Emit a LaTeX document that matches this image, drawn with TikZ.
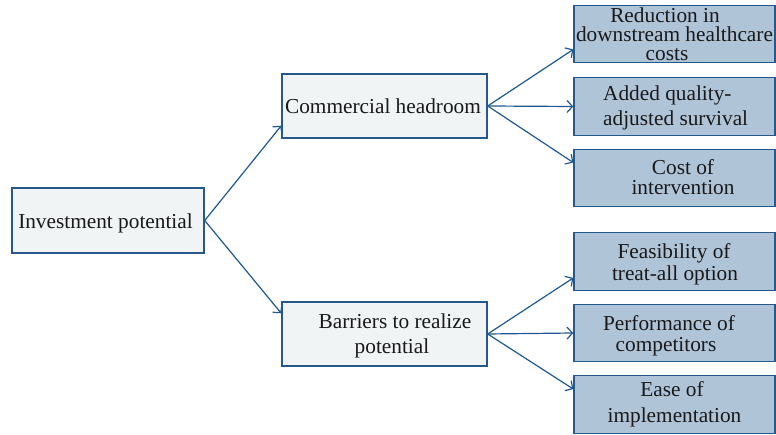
\documentclass[tikz,border=0pt]{standalone}
\usepackage{fontspec}
\setmainfont{Liberation Serif}
\usetikzlibrary{arrows.meta}
\definecolor{boxline}{RGB}{38,88,140}
\definecolor{lightfill}{RGB}{240,244,244}
\definecolor{darkfill}{RGB}{176,196,216}
\definecolor{arrowcol}{RGB}{30,88,146}
\tikzset{
  box/.style={draw=boxline, line width=1.4pt, inner sep=0pt, minimum height=64pt},
  lbox/.style={box, fill=lightfill, minimum width=205pt},
  rbox/.style={box, fill=darkfill, minimum width=201pt, minimum height=57.5pt},
  txt/.style={anchor=base, inner sep=0pt, text height=14pt, text depth=4.5pt, font=\fontsize{21.3pt}{24pt}\selectfont, text=black!90},
  conn/.style={draw=arrowcol, line width=1.2pt, -{Straight Barb[length=5.5pt,width=12pt,line width=1.2pt]}}
}
\begin{document}
\begin{tikzpicture}[x=1pt,y=-1pt]
\useasboundingbox (0,0) rectangle (776,435);
% boxes
\node[lbox, minimum width=192pt, minimum height=65pt] (inv) at (108,220.5) {};
\node[lbox] (hr) at (384.5,106) {};
\node[lbox] (bar) at (384.5,334) {};
\node[rbox] (r1) at (674.5,34) {};
\node[rbox] (r2) at (674.5,106.5) {};
\node[rbox] (r3) at (674.5,178) {};
\node[rbox] (r4) at (674.5,261.5) {};
\node[rbox] (r5) at (674.5,333) {};
\node[rbox] (r6) at (674.5,404.5) {};
% texts
\node[txt] (tinv) at (105.5,229) {Investment potential};
\node[txt] (thr) at (383,114) {Commercial headroom};
\node[txt] (tbar1) at (395,329) {Barriers to realize};
\node[txt] (tbar2) at (392,354) {potential};
\node[txt] (t1a) at (665,22.5) {Reduction in};
\node[txt] (t1b) at (674.5,41.5) {downstream healthcare};
\node[txt] (t1c) at (667,60.5) {costs};
\node[txt, anchor=base west] (t2a) at (603,101) {Added quality-};
\node[txt, anchor=base west] (t2b) at (603,126) {adjusted survival};
\node[txt] (t3a) at (683,175) {Cost of};
\node[txt] (t3b) at (683,195) {intervention};
\node[txt] (t4a) at (674,259) {Feasibility of};
\node[txt] (t4b) at (675,281) {treat-all option};
\node[txt] (t5a) at (669,331) {Performance of};
\node[txt] (t5b) at (666,352) {competitors};
\node[txt] (t6a) at (672,396) {Ease of};
\node[txt] (t6b) at (674.5,422) {implementation};
% connectors
\draw[conn] (inv.east) -- ([yshift=13pt]hr.south west);
\draw[conn] (inv.east) -- ([yshift=-12pt]bar.north west);
\draw[conn] (hr.east) -- ([yshift=14pt]r1.south west);
\draw[conn] (hr.east) -- (r2.west);
\draw[conn] (hr.east) -- ([yshift=-14pt]r3.north west);
\draw[conn] (bar.east) -- ([yshift=13pt]r4.south west);
\draw[conn] (bar.east) -- (r5.west);
\draw[conn] (bar.east) -- ([yshift=-14pt]r6.north west);
\end{tikzpicture}
\end{document}
